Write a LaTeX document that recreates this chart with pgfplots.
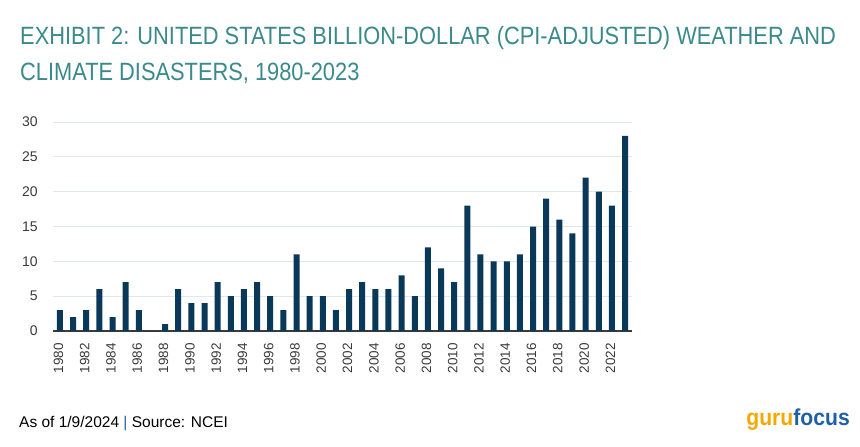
\documentclass[border=0pt]{standalone}
\usepackage{pgfplots}
\pgfplotsset{compat=1.18}
\usepackage{fontspec}
\setmainfont{Liberation Sans}
\newfontfamily\cond[FakeStretch=0.873]{Liberation Sans}
\newfontfamily\logofont[FakeStretch=0.92]{Liberation Sans Bold}
\definecolor{titlecol}{HTML}{3A8A8C}
\definecolor{barcol}{HTML}{0A3858}
\definecolor{gridcol}{HTML}{DDE8EF}
\definecolor{labcol}{HTML}{3A3A3A}
\definecolor{gurucol}{HTML}{F5A900}
\definecolor{focuscol}{HTML}{1F5FAA}
\begin{document}
\begin{tikzpicture}[x=1pt,y=1pt]
\useasboundingbox (0,0) rectangle (860,-447);
\node[anchor=base west, inner sep=0, text=titlecol, font=\cond\fontsize{25}{30}\selectfont] at (20,-45) {EXHIBIT 2: UNITED STATES BILLION-DOLLAR (CPI-ADJUSTED) WEATHER AND};
\node[anchor=base west, inner sep=0, text=titlecol, font=\cond\fontsize{25}{30}\selectfont] at (20,-80) {CLIMATE DISASTERS, 1980-2023};
\begin{axis}[
  at={(53pt,-331pt)}, anchor=south west,
  scale only axis, width=579pt, height=209pt,
  xmin=1979.47, xmax=2023.53, ymin=0, ymax=30,
  axis lines=left, axis line style={-},
  x axis line style={draw=labcol, line width=1.5pt},
  y axis line style={draw=none},
  tick style={draw=none},
  ytick={0,5,...,30},
  xtick={1980,1982,...,2022},
  ymajorgrids, grid style={draw=gridcol, line width=1pt},
  /pgf/number format/assume math mode=true,
  /pgf/number format/1000 sep={},
  tick label style={font=\fontsize{14}{14}\selectfont, text=labcol},
  xticklabel style={font=\fontsize{13.5}{13.5}\selectfont, rotate=90, anchor=east, inner sep=0pt, xshift=-10pt, yshift=1.5pt},
  yticklabel style={anchor=east, inner sep=0pt, xshift=-13pt},
  clip=false,
]
\addplot[ybar, bar width=6pt, fill=barcol, draw=none] coordinates {
(1980,3) (1981,2) (1982,3) (1983,6) (1984,2) (1985,7) (1986,3) (1987,0)
(1988,1) (1989,6) (1990,4) (1991,4) (1992,7) (1993,5) (1994,6) (1995,7)
(1996,5) (1997,3) (1998,11) (1999,5) (2000,5) (2001,3) (2002,6) (2003,7)
(2004,6) (2005,6) (2006,8) (2007,5) (2008,12) (2009,9) (2010,7) (2011,18)
(2012,11) (2013,10) (2014,10) (2015,11) (2016,15) (2017,19) (2018,16) (2019,14)
(2020,22) (2021,20) (2022,18) (2023,28)
};
\end{axis}
\node[anchor=base west, inner sep=0, text=black, font=\fontsize{15.5}{16}\selectfont] at (19,-427) {As of 1/9/2024 {\color{focuscol}|} Source: NCEI};
\node[anchor=base east, inner sep=0, font=\logofont\fontsize{23}{23}\selectfont] at (850,-425) {\textcolor{gurucol}{guru}\textcolor{focuscol}{focus}};
\end{tikzpicture}
\end{document}
